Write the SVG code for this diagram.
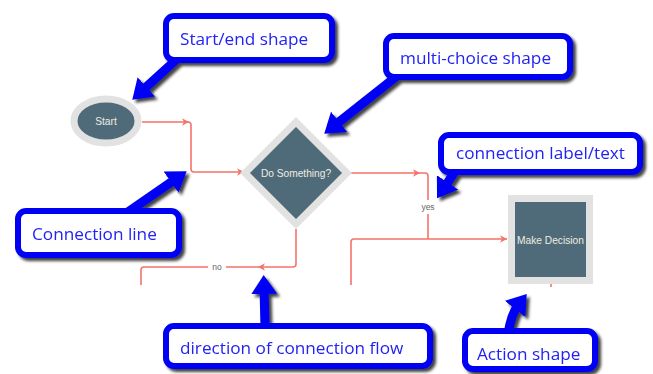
<svg xmlns="http://www.w3.org/2000/svg" xmlns:xlink="http://www.w3.org/1999/xlink" width="653" height="374" viewBox="0 0 653 374">
<style>
.node-shape{fill:#4f6b7a;stroke:#e2e2e2;stroke-width:7}
.node-text{font-family:"Liberation Sans",Arial,sans-serif;font-size:10.2px;fill:#f0ece0;text-anchor:middle;dominant-baseline:central}
.conn{fill:none;stroke:#f4736a;stroke-width:1.6}
.ah{fill:#f4736a}
.lbl-bg{fill:#ffffff}
.lbl{font-family:"Liberation Sans",Arial,sans-serif;font-size:8.5px;fill:#666;text-anchor:middle;dominant-baseline:central}
.callout-box{fill:#ffffff;stroke:#0000f5;stroke-width:6}
.callout-text{font-family:"Open Sans","Noto Sans",sans-serif;font-size:17.2px;fill:#2222f5}
.callout-arrow{fill:none;stroke:#0000f5;stroke-width:9}
</style>
<defs>
<filter id="sh" x="-20%" y="-20%" width="150%" height="160%">
<feDropShadow dx="3" dy="3" stdDeviation="1.8" flood-color="#000" flood-opacity="0.75"/>
</filter>
<marker id="bigHead" markerUnits="userSpaceOnUse" markerWidth="20" markerHeight="26" refX="6" refY="13" orient="auto">
<path d="M0,0 L19,13 L0,26 z" fill="#0000f5"/>
</marker>
<path id="ah" d="M-7,-3.8 L0,0 L-7,3.8 L-5,0 z"/>
</defs>

<g id="connectors">
<path class="conn" d="M142,122 H188 Q191,122 191,125 V169 Q191,172 194,172 H244"/>
<use xlink:href="#ah" class="ah" transform="translate(189,122)"/>
<use xlink:href="#ah" class="ah" transform="translate(244,172)"/>
<path class="conn" d="M349,173 H425 Q428,173 428,176 V239"/>
<use xlink:href="#ah" class="ah" transform="translate(420,173)"/>
<path class="conn" d="M351,285 V242 Q351,239 354,239 H507"/>
<use xlink:href="#ah" class="ah" transform="translate(507,239)"/>
<path class="conn" d="M296,229 V264 Q296,267 293,267 H144 Q141,267 141,270 V285"/>
<use xlink:href="#ah" class="ah" transform="translate(258,267) rotate(180)"/>
<path class="conn" d="M551,284 V287"/>
<rect class="lbl-bg" x="418" y="200" width="20" height="14"/>
<text class="lbl" x="428" y="207">yes</text>
<rect class="lbl-bg" x="208" y="261" width="18" height="12"/>
<text class="lbl" x="217" y="267">no</text>
</g>

<g id="node-start">
<ellipse class="node-shape" cx="106" cy="121" rx="32" ry="22"/>
<text class="node-text" x="106" y="121">Start</text>
</g>
<g id="node-do-something">
<path class="node-shape" d="M296,122 L347,173 L296,224 L245,173 z"/>
<text class="node-text" x="296" y="173">Do Something?</text>
</g>
<g id="node-make-decision">
<rect class="node-shape" x="511.5" y="198.5" width="78" height="82"/>
<text class="node-text" x="550.5" y="240">Make Decision</text>
</g>

<g id="callout-start-end" filter="url(#sh)">
<path class="callout-arrow" d="M178,58 L141.9,90.9" marker-end="url(#bigHead)"/>
<rect class="callout-box" x="166" y="16" width="166" height="44" rx="8"/>
<text class="callout-text" x="180" y="45">Start/end shape</text>
</g>
<g id="callout-multi-choice" filter="url(#sh)">
<path class="callout-arrow" d="M397,76 L334.4,125.6" marker-end="url(#bigHead)"/>
<rect class="callout-box" x="386" y="36" width="184" height="41" rx="8"/>
<text class="callout-text" x="400" y="64">multi-choice shape</text>
</g>
<g id="callout-connection-label" filter="url(#sh)">
<path class="callout-arrow" d="M456,170 L444.3,187.4" marker-end="url(#bigHead)"/>
<rect class="callout-box" x="441" y="135" width="199" height="37" rx="8"/>
<text class="callout-text" x="456" y="159">connection label/text</text>
</g>
<g id="callout-connection-line" filter="url(#sh)">
<path class="callout-arrow" d="M125,214 L176,178.7" marker-end="url(#bigHead)"/>
<rect class="callout-box" x="18" y="211" width="161" height="44" rx="8"/>
<text class="callout-text" x="32" y="240">Connection line</text>
</g>
<g id="callout-direction" filter="url(#sh)">
<path class="callout-arrow" d="M265,328 L264,288" marker-end="url(#bigHead)"/>
<rect class="callout-box" x="166" y="326" width="264" height="40" rx="8"/>
<text class="callout-text" x="180" y="354">direction of connection flow</text>
</g>
<g id="callout-action" filter="url(#sh)">
<path class="callout-arrow" d="M508,334 Q511,314 518.7,304.2" marker-end="url(#bigHead)"/>
<rect class="callout-box" x="465" y="331" width="130" height="38" rx="8"/>
<text class="callout-text" x="477" y="360">Action shape</text>
</g>
</svg>
